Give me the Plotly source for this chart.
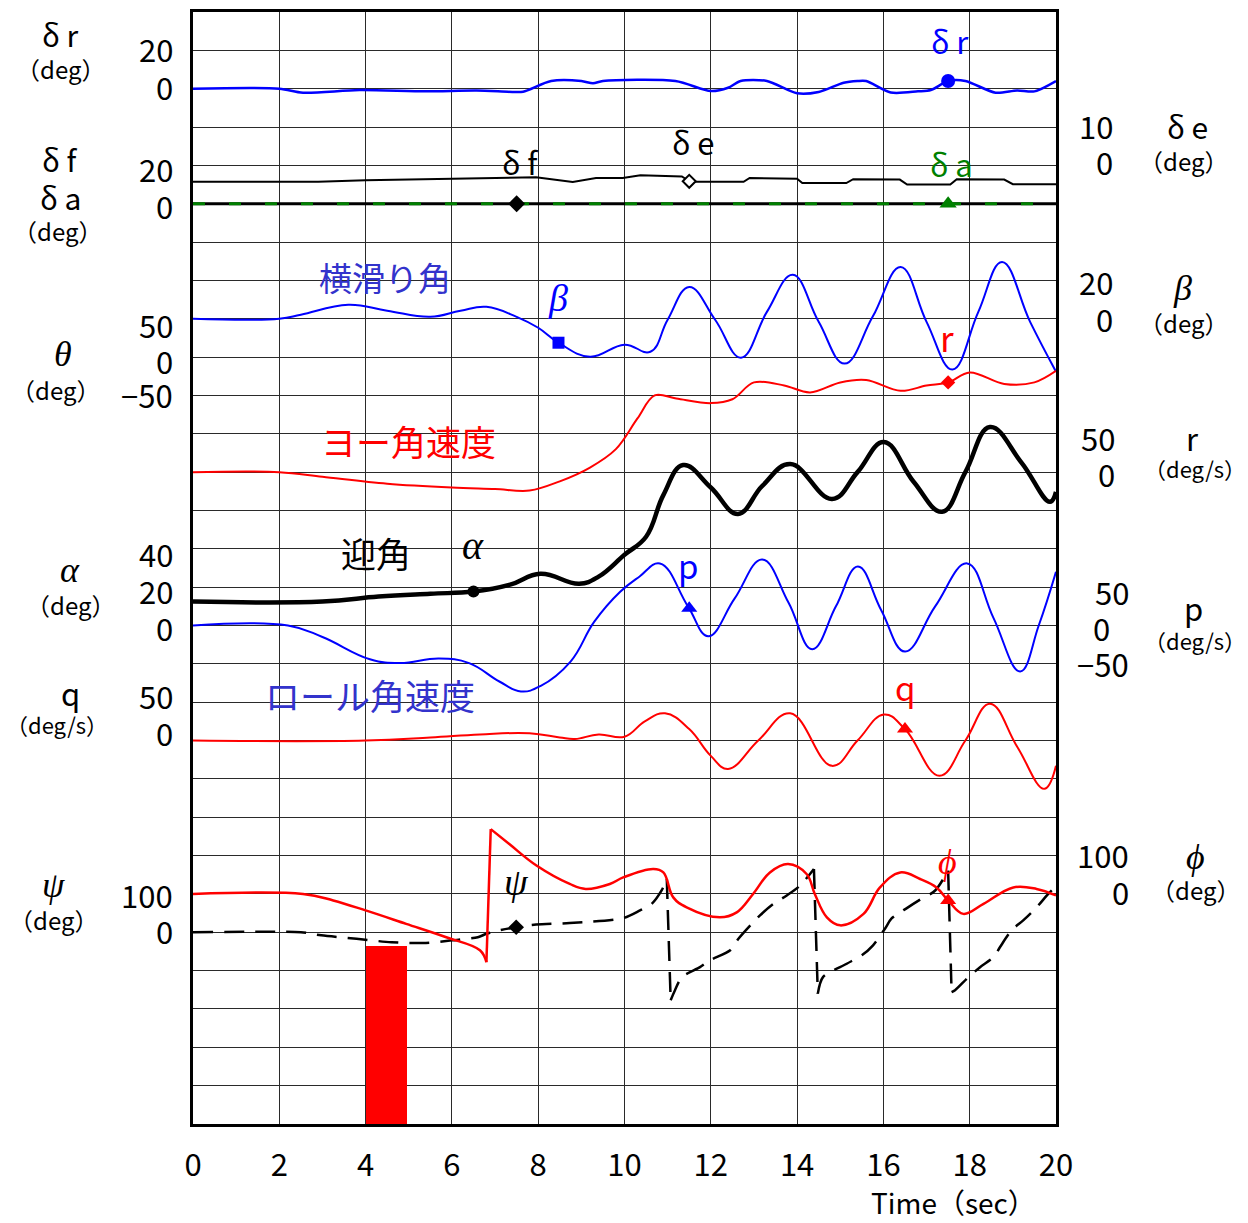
import numpy as np
import plotly.graph_objects as go

# ---------------- data (time in sec, values in signal units) ----------------
t_dr = [0, 2.0, 2.55, 3.86, 5.4, 6.57, 7.4, 7.65, 8.3, 9.0, 9.27, 9.5, 11.18, 12.0, 12.4, 12.69, 13.3,
        14.0, 14.5, 15.08, 15.4, 15.6, 16.17, 16.8, 17.1, 17.5, 17.9, 18.6, 19.1, 19.5, 20]
v_dr = [0, 0, -2.1, -0.7, -1.4, -0.9, -1.7, -1.6, 4.0, 4.0, 2.8, 4.0, 4.0, -1.2, 0.5, 4.0, 4.0,
        -2.4, -1.7, 3.1, 4.0, 4.0, -2.0, -1.4, -0.7, 4.0, 4.0, -2.1, -0.9, -1.4, 4.0]

t_de = [0, 2.9, 4.0, 6.05, 7.75, 7.95, 8.8, 9.34, 9.96, 10.37, 11.33, 11.52, 12.76, 12.9, 14.0, 14.12,
        15.14, 15.3, 16.38, 16.55, 17.55, 17.7, 18.8, 19.0, 20]
v_de = [-4.3, -4.3, -3.9, -3.5, -3.0, -3.1, -4.3, -3.3, -3.3, -2.6, -2.9, -4.3, -4.3, -3.3, -3.5, -4.6,
        -4.6, -3.6, -3.7, -5.0, -5.0, -3.6, -3.7, -4.9, -4.9]

t_df = [0, 20]
v_df = [0, 0]
t_da = [0, 20]
v_da = [0, 0]

t_beta = [0, 2.0, 2.5, 3.6, 4.5, 5.5, 6.2, 6.8, 7.5, 8.0, 8.47, 9.2, 10.0, 10.6, 11.0, 11.5, 12.1, 12.7,
          13.3, 13.9, 14.5, 15.1, 15.75, 16.4, 17.0, 17.6, 18.2, 18.75, 19.4, 20]
v_beta = [0, 0, 2.1, 7.3, 4.2, 1.0, 4.2, 6.2, 1.0, -4.7, -12.5, -19.8, -13.5, -17.2, -0.5, 16.6, -0.5, -20.3,
          3.6, 22.9, -1.6, -23.4, 1.0, 27.0, -1.6, -26.5, 3.6, 29.6, -1.6, -27.6]

t_r = [0, 2.0, 3.0, 4.5, 6.0, 7.0, 7.8, 8.5, 9.2, 9.8, 10.3, 10.7, 11.2, 12.0, 12.5, 13.0, 13.7, 14.3,
       15.0, 15.6, 16.4, 17.0, 17.5, 18.0, 18.8, 19.5, 20]
v_r = [0, 0, -6, -15, -20, -22, -24, -12, 6, 30, 70, 100, 96, 90, 95, 117, 113, 104,
       117, 120, 106, 113, 117, 130, 115, 117, 132]

t_alpha = [0, 3.0, 4.3, 5.5, 6.5, 7.35, 8.05, 8.95, 9.4, 10.0, 10.5, 10.9, 11.36, 12.0, 12.63, 13.2, 13.84,
           14.81, 15.4, 16.01, 16.7, 17.36, 17.9, 18.47, 19.2, 19.86, 20]
v_alpha = [12.5, 12.5, 15.1, 16.6, 17.7, 21.3, 27.0, 21.8, 25.5, 36.9, 46.3, 68.0, 83.7, 72.0, 58.2, 73.0, 84.2,
           66.0, 80.0, 95.7, 75.0, 59.3, 80.0, 103.5, 85.0, 64.5, 69.7]

t_p = [0, 2.2, 3.0, 4.1, 4.8, 5.7, 6.4, 7.1, 7.6, 8.05, 8.75, 9.3, 9.9, 10.35, 10.82, 11.47, 11.94, 12.55,
       13.19, 13.8, 14.35, 14.9, 15.41, 15.95, 16.5, 17.2, 17.94, 18.55, 19.17, 19.6, 20]
v_p = [0, 0, -15, -44, -49, -43, -49, -73, -86, -79, -47, 5, 44, 64, 81, 25, -14, 35,
       86, 30, -31, 25, 77, 20, -34, 25, 81, 10, -60, 0, 70]

t_q = [0, 4.0, 5.5, 6.65, 7.8, 8.5, 8.85, 9.4, 10.0, 10.47, 10.94, 11.5, 12.0, 12.4, 13.1, 13.84, 14.81,
       15.4, 16.01, 16.5, 17.3, 17.9, 18.47, 19.1, 19.73, 20]
v_q = [0, 0, 4, 8, 9.5, 4, 2, 8, 5, 25, 35.5, 15, -20, -37, 0, 35.5, -33,
       0, 34, 15, -46, 0, 48, -8, -63, -33]

t_psi = [0, 2.5, 2.97, 3.79, 4.6, 5.4, 6.0, 6.6, 6.8, 7.1, 7.49, 7.95, 8.73, 9.97, 10.36, 10.63, 10.86,
         10.98, 11.07, 11.17, 11.33, 11.75, 11.98, 12.45, 12.64, 12.95, 13.14, 13.45, 13.76, 14.07, 14.39,
         14.48, 14.6, 15.15, 15.5, 15.76, 16.04, 16.19, 16.57, 16.85, 17.2, 17.5, 17.58, 17.66, 17.97,
         18.24, 18.55, 18.7, 18.97, 19.24, 19.55, 19.82, 20]
v_psi = [0, 0, -8, -17, -26, -28, -21, -13, -4, 5, 13, 20, 24, 37, 57, 74, 109,
         139, -177, -151, -117, -91, -73, -47, -17, 22, 44, 74, 96, 122, 165,
         -160, -117, -82, -60, -34, 10, 36, 65, 85, 109, 161, -156, -151, -117,
         -91, -65, -39, 5, 31, 65, 100, 120]

t_phi = [0, 2.55, 3.25, 4.0, 4.94, 5.87, 6.65, 6.8, 6.9, 7.33, 7.96, 8.73, 9.1, 9.66, 9.97, 10.67, 10.9,
         11.13, 11.44, 12.21, 12.6, 12.98, 13.37, 13.79, 14.22, 14.41, 14.69, 15.0, 15.54, 15.92, 16.39,
         16.85, 17.23, 17.5, 17.85, 18.32, 19.01, 19.55, 20]
v_phi = [0, 0, -17, -43, -78, -113, -147, -178, 169, 130, 74, 26, 13, 26, 43, 65, 56,
         -9, -35, -61, -48, 0, 56, 78, 52, 0, -61, -82, -52, 17, 56,
         39, 17, -17, -52, -26, 17, 13, -4]

# event window (red bar) in seconds and its height in chart rows
event_window = [4.02, 4.96]
event_rows = 4.63

# marker times for each series
mk_dr, mk_df, mk_de, mk_da = 17.5, 7.5, 11.5, 17.5
mk_beta, mk_r, mk_alpha, mk_p, mk_q = 8.47, 17.5, 6.5, 11.5, 16.5
mk_psi, mk_phi = 7.49, 17.5

x_ticks = list(range(0, 21, 2))

# ---------------- layout helpers ----------------
W, H = 1248, 1223
L, R, T, B = 193, 1056, 9, 1124
N_ROWS = 29

# strip definition: axis -> (zero row counted from bottom, units per row)
strips = {
    'y2': (27, 20),   # delta r
    'y3': (24, 20),   # delta f, delta a
    'y4': (25, 10),   # delta e
    'y5': (21, 20),   # beta
    'y6': (17, 50),   # r
    'y7': (13, 20),   # alpha
    'y8': (13, 50),   # p
    'y9': (10, 50),   # q
    'y10': (5, 100),  # psi
    'y11': (6, 100),  # phi
}

fig = go.Figure()

BLUE, RED, BLACK, GREEN = '#0000ff', '#ff0000', '#000000', '#008000'

# red event bar on base axis
fig.add_trace(go.Bar(x=[(event_window[0] + event_window[1]) / 2], y=[event_rows],
                     width=[event_window[1] - event_window[0]], marker=dict(color=RED, line=dict(width=0)),
                     yaxis='y', showlegend=False, hoverinfo='skip'))


def line(t, v, ax, color, width, dash='solid', shape='spline', smoothing=1.0):
    fig.add_trace(go.Scatter(x=t, y=v, yaxis=ax, mode='lines',
                             line=dict(color=color, width=width, dash=dash, shape=shape,
                                       smoothing=smoothing if shape == 'spline' else None),
                             showlegend=False, hoverinfo='skip'))


def wrapped_line(t, v, ax, color, width, dash='solid', smoothing=1.0):
    """Angle signal wrapping at +-180: smooth pieces joined by straight jumps."""
    t = list(t)
    v = list(v)
    cuts = [i + 1 for i in range(len(v) - 1) if abs(v[i + 1] - v[i]) > 180]
    starts = [0] + cuts
    ends = cuts + [len(v)]
    for a, b in zip(starts, ends):
        line(t[a:b], v[a:b], ax, color, width, dash, 'spline', smoothing)
    for c in cuts:
        line(t[c - 1:c + 1], v[c - 1:c + 1], ax, color, width, dash, 'linear')


def marker(tm, t, v, ax, color, symbol, size, open_=False):
    yv = float(np.interp(tm, t, v))
    fig.add_trace(go.Scatter(x=[tm], y=[yv], yaxis=ax, mode='markers',
                             marker=dict(color='white' if open_ else color, symbol=symbol, size=size,
                                         line=dict(color=color, width=2 if open_ else 0)),
                             showlegend=False, hoverinfo='skip'))


line(t_df, v_df, 'y3', BLACK, 3, shape='linear')
line(t_da, v_da, 'y3', GREEN, 3, dash='12px,24px', shape='linear')
line(t_de, v_de, 'y4', BLACK, 2, shape='linear')
line(t_dr, v_dr, 'y2', BLUE, 2.5, smoothing=0.8)
line(t_beta, v_beta, 'y5', BLUE, 2, smoothing=1.2)
line(t_r, v_r, 'y6', RED, 2, smoothing=1.0)
line(t_p, v_p, 'y8', BLUE, 2, smoothing=1.2)
line(t_q, v_q, 'y9', RED, 2, smoothing=1.2)
line(t_alpha, v_alpha, 'y7', BLACK, 4.5, smoothing=1.2)
wrapped_line(t_psi, v_psi, 'y10', BLACK, 2.5, dash='20px,11px', smoothing=0.8)
wrapped_line(t_phi, v_phi, 'y11', RED, 2.5, smoothing=1.1)

marker(mk_dr, t_dr, v_dr, 'y2', BLUE, 'circle', 14)
marker(mk_df, t_df, v_df, 'y3', BLACK, 'diamond', 13)
marker(mk_de, t_de, v_de, 'y4', BLACK, 'diamond', 10, open_=True)
marker(mk_da, t_da, v_da, 'y3', GREEN, 'triangle-up', 15)
marker(mk_beta, t_beta, v_beta, 'y5', BLUE, 'square', 12)
marker(mk_r, t_r, v_r, 'y6', RED, 'diamond', 11)
marker(mk_alpha, t_alpha, v_alpha, 'y7', BLACK, 'circle', 12)
marker(mk_p, t_p, v_p, 'y8', BLUE, 'triangle-up', 14)
marker(mk_q, t_q, v_q, 'y9', RED, 'triangle-up', 14)
marker(mk_psi, t_psi, v_psi, 'y10', BLACK, 'diamond', 12)
marker(mk_phi, t_phi, v_phi, 'y11', RED, 'triangle-up', 14)

# ---------------- axes ----------------
GRID = '#2a2a2a'
layout_axes = {}
for ax, (z0, s) in strips.items():
    name = 'yaxis' + ax[1:]
    layout_axes[name] = dict(overlaying='y', range=[-z0 * s, (N_ROWS - z0) * s], visible=False,
                             fixedrange=True)

fig.update_layout(
    width=W, height=H,
    margin=dict(l=L, r=W - R, t=T, b=H - B, pad=0),
    paper_bgcolor='white', plot_bgcolor='white',
    bargap=0,
    xaxis=dict(range=[0, 20], tickvals=x_ticks, ticktext=[str(v) for v in x_ticks],
               showgrid=True, gridcolor=GRID, gridwidth=1, zeroline=False,
               showline=True, linecolor='black', linewidth=3, mirror=True,
               ticks='', ticklabelstandoff=12,
               tickfont=dict(family='Noto Sans CJK JP', size=31, color='black')),
    yaxis=dict(range=[0, N_ROWS], dtick=1, showgrid=True, gridcolor=GRID, gridwidth=1,
               zeroline=False, showticklabels=False, ticks='',
               showline=True, linecolor='black', linewidth=3, mirror=True),
    **layout_axes,
)

# ---------------- text ----------------
JP = 'Noto Sans CJK JP'
SERIF = 'Liberation Serif'
DY = -4  # vertical correction for the font's line box


def px(x):
    return (x - L) / (R - L)


def py(y):
    return (B - (y + DY)) / (B - T)


ann = []


def txt(x, y, s, size=28, color='black', xanchor='center', family=JP):
    ann.append(dict(x=px(x), y=py(y), xref='paper', yref='paper', text=s, showarrow=False,
                    xanchor=xanchor, yanchor='middle',
                    font=dict(family=family, size=size, color=color)))


DEG = '\uff08deg\uff09'
DEGS = '\uff08deg/s\uff09'
PHI = '\u03d5'

# left tick labels
for y, s in [(50, '20'), (88, '0'), (170, '20'), (207, '0'), (326, '50'), (362, '0'), (397, '\u221250'),
             (556, '40'), (593, '20'), (630, '0'), (698, '50'), (735, '0'), (898, '100'), (934, '0')]:
    txt(175, y, s, size=31, xanchor='right')
# right tick labels
for y, s, xr in [(127, '10', 1115), (163, '0', 1115), (283, '20', 1115), (320, '0', 1115),
                 (440, '50', 1117), (476, '0', 1117), (594, '50', 1131), (630, '0', 1112),
                 (666, '\u221250', 1131), (858, '100', 1131), (895, '0', 1131)]:
    txt(xr, y, s, size=31, xanchor='right')

# left titles
txt(60, 35, '\u03b4 r', 30)
txt(60, 70, DEG, 24)
txt(60, 160, '\u03b4 f', 30)
txt(60, 198, '\u03b4 a', 30)
txt(57, 232, DEG, 24)
txt(63, 356, '<i>\u03b8</i>', 36, family=SERIF)
txt(55, 392, DEG, 24)
txt(70, 573, '<i>\u03b1</i>', 36, family=SERIF)
txt(70, 607, DEG, 24)
txt(70, 695, 'q', 31)
txt(57, 727, DEGS, 22)
txt(53, 888, '<i>\u03c8</i>', 36, family=SERIF)
txt(53, 923, DEG, 24)

# right titles
txt(1187, 127, '\u03b4 e', 30)
txt(1183, 162, DEG, 24)
txt(1182, 290, '<i>\u03b2</i>', 36, family=SERIF)
txt(1183, 324, DEG, 24)
txt(1192, 440, 'r', 31)
txt(1195, 470, DEGS, 22)
txt(1193, 610, 'p', 31)
txt(1195, 643, DEGS, 22)
txt(1195, 860, '<i>' + PHI + '</i>', 36, family=SERIF)
txt(1195, 893, DEG, 24)

# in-plot labels
txt(950, 42, '\u03b4 r', 31, BLUE)
txt(693, 143, '\u03b4 e', 31)
txt(520, 163, '\u03b4 f', 31)
txt(951, 165, '\u03b4 a', 31, GREEN)
txt(385, 279, '\u6a2a\u6ed1\u308a\u89d2', 33, '#3333cc')
txt(558, 300, '<i>\u03b2</i>', 38, BLUE, family=SERIF)
txt(947, 338, 'r', 35, RED)
txt(408, 443, '\u30e8\u30fc\u89d2\u901f\u5ea6', 35, RED)
txt(376, 555, '\u8fce\u89d2', 35, BLACK)
txt(473, 548, '<i>\u03b1</i>', 40, BLACK, family=SERIF)
txt(688, 567, 'p', 33, BLUE)
txt(370, 697, '\u30ed\u30fc\u30eb\u89d2\u901f\u5ea6', 35, '#3333cc')
txt(905, 690, 'q', 33, RED)
txt(947, 865, '<i>' + PHI + '</i>', 36, RED, family=SERIF)
txt(516, 885, '<i>\u03c8</i>', 38, BLACK, family=SERIF)
txt(953, 1206, 'Time\uff08sec\uff09', 28)

fig.update_layout(annotations=ann)
fig.write_html('out.html')
